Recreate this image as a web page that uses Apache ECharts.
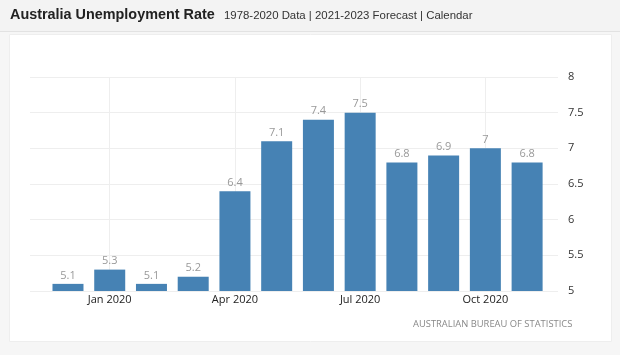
<!DOCTYPE html>
<html><head><meta charset="utf-8">
<script src="https://cdn.jsdelivr.net/npm/echarts@6/dist/echarts.min.js"></script>
<style>html,body{margin:0;padding:0;background:#f6f6f6;}#c{width:620px;height:355px;}</style>
</head><body><div id="c"></div>
<script>
const categories = ['Dec 2019','Jan 2020','Feb 2020','Mar 2020','Apr 2020','May 2020','Jun 2020','Jul 2020','Aug 2020','Sep 2020','Oct 2020','Nov 2020'];
const values = [5.1, 5.3, 5.1, 5.2, 6.4, 7.1, 7.4, 7.5, 6.8, 6.9, 7, 6.8];
const xLabelIdx = [1, 4, 7, 10];
const yTicks = [5, 5.5, 6, 6.5, 7, 7.5, 8];

const chart = echarts.init(document.getElementById('c'));
chart.setOption({
  animation: false,
  backgroundColor: '#f6f6f6',
  graphic: [
    {type:'rect', shape:{x:0,y:0,width:620,height:31}, style:{fill:'#f3f3f3'}, z:-10},
    {type:'rect', shape:{x:0,y:31,width:620,height:1}, style:{fill:'#e2e2e2'}, z:-10},
    {type:'rect', shape:{x:9.5,y:34.5,width:602,height:307}, style:{fill:'#ffffff', stroke:'#eeeeee', lineWidth:1}, z:-10},
    {type:'text', left:10, top:8, style:{text:'Australia Unemployment Rate', font:'bold 14.4px "Liberation Sans", Arial', fill:'#222'}},
    {type:'text', left:224, top:10, style:{text:'1978-2020 Data | 2021-2023 Forecast | Calendar', font:'11.4px "Liberation Sans", Arial', fill:'#333'}},
    {type:'text', left:413, top:320, style:{text:'AUSTRALIAN BUREAU OF STATISTICS', font:'9.4px "Open Sans"', fill:'#888'}}
  ],
  grid: {left:30, right:62, top:77, bottom:64},
  xAxis: {
    type:'value', min:-0.91, max:11.74,
    axisLine:{show:false}, axisTick:{show:false, customValues:xLabelIdx},
    splitLine:{show:true, customValues:xLabelIdx, lineStyle:{color:'#eeeeee', width:1}},
    axisLabel:{customValues:xLabelIdx, formatter:(v)=>categories[Math.round(v)] || '', color:'#222', fontSize:11, fontFamily:'"Open Sans"', margin:3}
  },
  yAxis: {
    type:'value', position:'right', min:5, max:8, interval:0.5,
    axisLine:{show:false}, axisTick:{show:false},
    splitLine:{lineStyle:{color:'#eeeeee'}},
    axisLabel:{color:'#333', fontSize:11, fontFamily:'"Open Sans"', margin:10, formatter:(v)=>String(v)}
  },
  series: [{
    type:'bar', barWidth:31,
    data: values.map((v,i)=>[i,v]),
    itemStyle:{color:'#4682b4'},
    label:{show:true, position:'top', distance:3, color:'#999', fontSize:11, fontFamily:'"Open Sans"', formatter:(p)=>String(p.value[1])}
  }]
});
</script></body></html>
